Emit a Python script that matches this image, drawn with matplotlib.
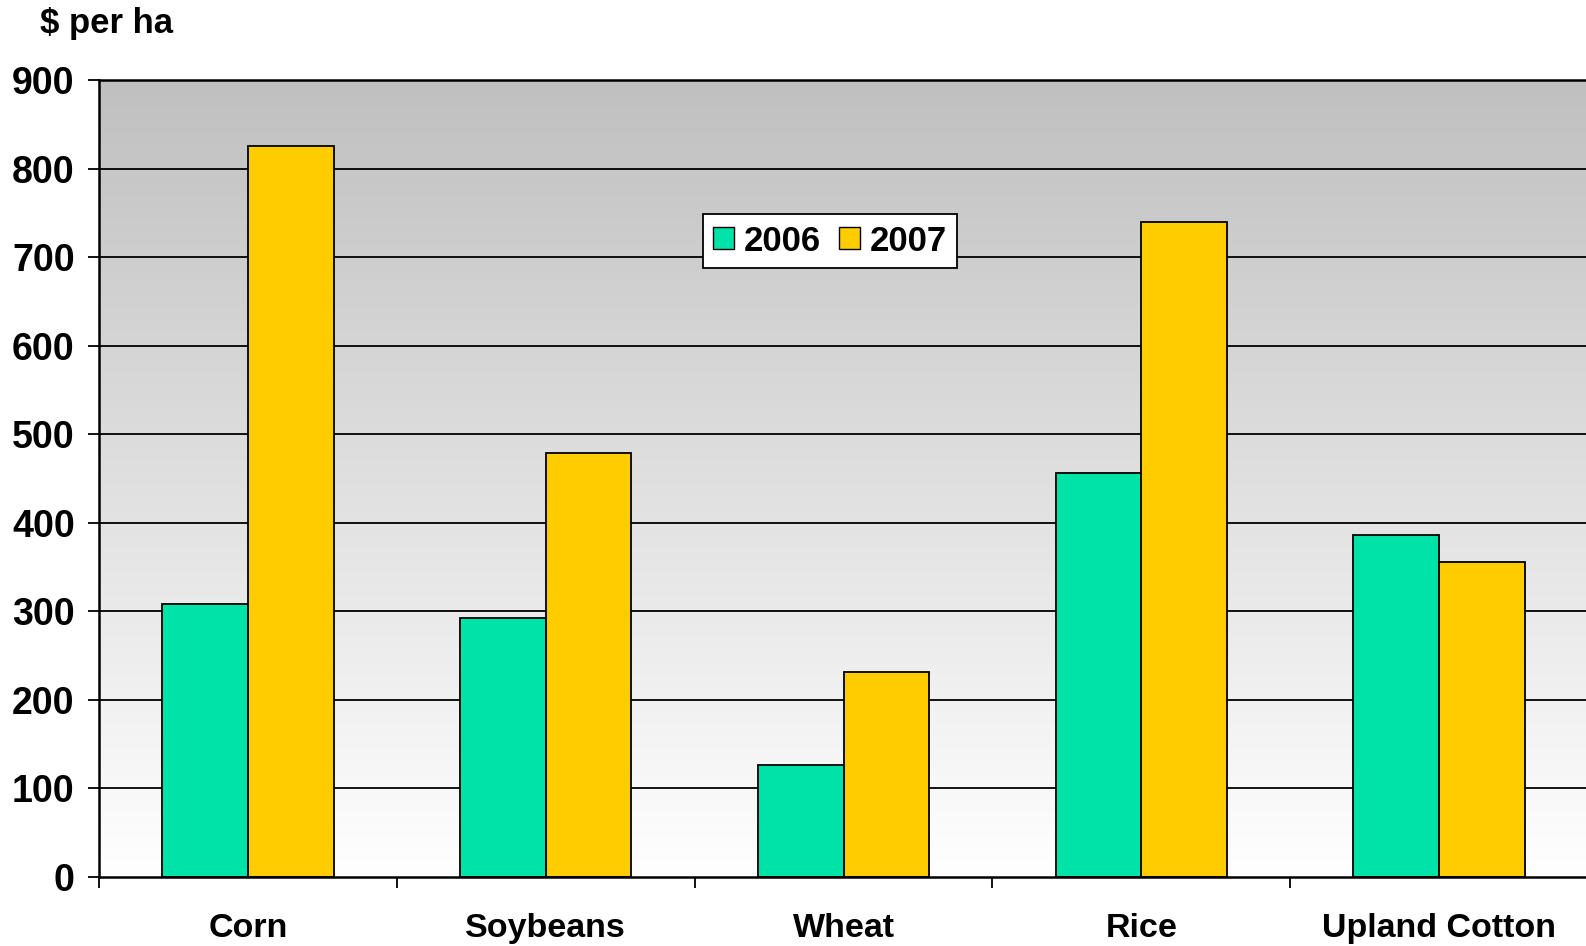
import matplotlib
matplotlib.use("Agg")
import matplotlib.pyplot as plt
import numpy as np
from matplotlib.patches import Patch
from matplotlib.colors import LinearSegmentedColormap

categories = ["Corn", "Soybeans", "Wheat", "Rice", "Upland Cotton"]
vals_2006 = [308, 292, 127, 456, 386]
vals_2007 = [826, 479, 232, 740, 356]
series_names = ["2006", "2007"]
yticks = [0, 100, 200, 300, 400, 500, 600, 700, 800, 900]

plt.rcParams['font.family'] = ['Liberation Sans', 'DejaVu Sans']
plt.rcParams['font.weight'] = 'bold'

W, H = 1586, 946
fig = plt.figure(figsize=(W/100, H/100), dpi=100)
L, R, T, B = 99, 1600, 80, 877
ax = fig.add_axes([L/W, 1-B/H, (R-L)/W, (B-T)/H])

step = 297.8
xmax = 4.5 + (R-1588)/step
ax.set_xlim(-0.5, xmax)
ax.set_ylim(0, 900)

cmap = LinearSegmentedColormap.from_list("g", ["#FFFFFF", "#C0C0C0"])
ax.imshow(np.linspace(0, 1, 256).reshape(-1, 1), aspect='auto', cmap=cmap,
          extent=[-0.5, xmax, 0, 900], origin='lower', zorder=0)

for yv in yticks[1:]:
    ax.axhline(yv, color='black', lw=1.3, zorder=1)

x = np.arange(len(categories))
w = 0.288
ax.bar(x - w/2, vals_2006, w, color='#00E3A8', edgecolor='black', lw=1.3, zorder=2)
ax.bar(x + w/2, vals_2007, w, color='#FFCC00', edgecolor='black', lw=1.3, zorder=2)

ax.set_yticks(yticks)
ax.set_yticklabels([str(v) for v in yticks], fontsize=27, fontweight='bold')
ax.set_xticks(np.arange(-0.5, 4.6, 1.0))
ax.set_xticklabels([])
ax.set_xticks(x, minor=True)
ax.set_xticklabels(categories, minor=True, fontsize=24.5, fontweight='bold')
ax.tick_params(axis='x', which='minor', length=0, pad=26)
ax.tick_params(axis='x', which='major', length=8, width=1.3, direction='out')
ax.tick_params(axis='y', length=8, width=1.3, direction='out', pad=9.5)

ax.spines['right'].set_visible(False)
for s in ['left', 'bottom', 'top']:
    ax.spines[s].set_linewidth(1.8)
    ax.spines[s].set_zorder(3)

handles = [Patch(facecolor='#00E3A8', edgecolor='black'),
           Patch(facecolor='#FFCC00', edgecolor='black')]
leg = ax.legend(handles, series_names, loc='center',
                bbox_to_anchor=((830-L)/(R-L), (B-241)/(B-T)),
                ncol=2, prop={'weight': 'bold', 'size': 25}, frameon=True, fancybox=False,
                handlelength=0.6, handleheight=0.6, handletextpad=0.28, columnspacing=0.52,
                borderpad=0.3, borderaxespad=0, edgecolor='black', framealpha=1)
leg.get_frame().set_linewidth(1.3)

fig.text(40/W, 1-24/H, "$ per ha", fontsize=25, fontweight='bold', va='center', ha='left')

fig.savefig("out.png", dpi=100)
